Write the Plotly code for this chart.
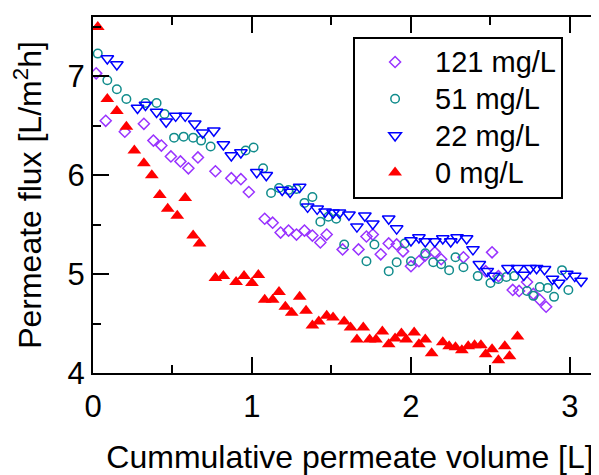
import plotly.graph_objects as go

# 0 mg/L
x0 = [0.03, 0.09, 0.15, 0.21, 0.26, 0.32, 0.37, 0.42, 0.47, 0.53, 0.58, 0.63, 0.67, 0.77, 0.82,
      0.90, 0.95, 1.00, 1.04, 1.08, 1.13, 1.17, 1.21, 1.25, 1.30, 1.34, 1.38, 1.42, 1.47, 1.51,
      1.58, 1.62, 1.66, 1.70, 1.74, 1.78, 1.82, 1.86, 1.90, 1.94, 1.97, 2.02, 2.05, 2.09, 2.13,
      2.20, 2.24, 2.28, 2.32, 2.36, 2.40, 2.44, 2.47, 2.51, 2.55, 2.59, 2.62, 2.67]
y0 = [7.50, 6.77, 6.65, 6.49, 6.25, 6.12, 6.00, 5.80, 5.66, 5.59, 5.77, 5.39, 5.31, 4.96, 4.98,
      4.92, 4.98, 4.91, 4.99, 4.74, 4.74, 4.82, 4.67, 4.61, 4.77, 4.63, 4.48, 4.52, 4.58, 4.56,
      4.52, 4.46, 4.34, 4.46, 4.34, 4.34, 4.42, 4.29, 4.35, 4.40, 4.34, 4.41, 4.29, 4.34, 4.20,
      4.31, 4.27, 4.26, 4.23, 4.27, 4.28, 4.28, 4.19, 4.24, 4.13, 4.27, 4.17, 4.37]

# 22 mg/L
x22 = [0.09, 0.15, 0.28, 0.33, 0.40, 0.46, 0.52, 0.58, 0.64, 0.69, 0.76, 0.82, 0.87, 0.93, 1.03,
       1.09, 1.19, 1.24, 1.30, 1.35, 1.41, 1.46, 1.51, 1.55, 1.61, 1.66, 1.71, 1.76, 1.86, 1.91,
       2.00, 2.05, 2.09, 2.15, 2.20, 2.25, 2.29, 2.35, 2.39, 2.43, 2.48, 2.52, 2.61, 2.67, 2.71,
       2.75, 2.79, 2.84, 2.89, 2.93, 2.98, 3.03, 3.07]
y22 = [7.18, 7.12, 6.68, 6.71, 6.64, 6.54, 6.60, 6.60, 6.52, 6.43, 6.45, 6.31, 6.20, 6.23, 6.03,
       6.00, 5.85, 5.83, 5.88, 5.68, 5.66, 5.63, 5.62, 5.62, 5.60, 5.48, 5.59, 5.51, 5.56, 5.46,
       5.34, 5.37, 5.33, 5.33, 5.36, 5.33, 5.37, 5.36, 5.25, 5.10, 5.03, 4.98, 5.06, 5.06, 4.99,
       5.06, 5.06, 5.05, 4.95, 4.91, 5.00, 4.98, 4.93]

# 51 mg/L
x51 = [0.03, 0.09, 0.15, 0.21, 0.33, 0.40, 0.45, 0.51, 0.57, 0.63, 0.68, 0.74, 0.96, 1.01, 1.07,
       1.12, 1.17, 1.23, 1.28, 1.33, 1.38, 1.43, 1.48, 1.53, 1.58, 1.72, 1.77, 1.86, 1.91, 1.96,
       2.00, 2.09, 2.14, 2.19, 2.24, 2.28, 2.33, 2.42, 2.50, 2.55, 2.60, 2.65, 2.73, 2.77, 2.81,
       2.86, 2.90, 2.95, 2.99]
y51 = [7.23, 6.96, 6.87, 6.77, 6.73, 6.73, 6.62, 6.38, 6.39, 6.38, 6.35, 6.29, 6.25, 6.28, 6.07,
       5.82, 5.87, 5.85, 5.86, 5.72, 5.78, 5.53, 5.58, 5.56, 5.30, 5.13, 5.30, 5.03, 5.12, 5.31,
       5.13, 5.21, 5.12, 5.10, 5.04, 5.17, 5.07, 4.98, 4.91, 4.95, 4.97, 4.98, 4.83, 4.78, 4.87,
       4.86, 4.77, 5.04, 4.84]

# 121 mg/L
x121 = [0.02, 0.08, 0.20, 0.32, 0.38, 0.43, 0.49, 0.55, 0.60, 0.66, 0.77, 0.87, 0.93, 0.98, 1.08,
        1.13, 1.18, 1.23, 1.28, 1.33, 1.38, 1.43, 1.47, 1.57, 1.67, 1.72, 1.76, 1.81, 1.86, 1.91,
        1.95, 2.00, 2.05, 2.09, 2.15, 2.19, 2.33, 2.47, 2.51, 2.55, 2.64, 2.68, 2.73, 2.77, 2.81,
        2.85]
y121 = [7.03, 6.55, 6.44, 6.52, 6.35, 6.30, 6.19, 6.14, 6.07, 6.18, 6.04, 5.97, 5.96, 5.83, 5.56,
        5.52, 5.42, 5.44, 5.40, 5.44, 5.39, 5.32, 5.40, 5.25, 5.25, 5.38, 5.40, 5.20, 5.31, 5.30,
        5.23, 5.08, 5.13, 5.19, 5.22, 5.15, 5.17, 5.03, 5.22, 4.98, 4.84, 4.83, 4.92, 4.80, 4.74,
        4.67]

FONT = 'Liberation Sans, Arial, sans-serif'


def leg(name):
    # bigger text than the legend's row height would allow
    return '<span style="font-size:29px">' + name + '</span>'


fig = go.Figure()

fig.add_trace(go.Scatter(x=x121, y=y121, mode='markers', name=leg('121 mg/L'),
                         marker=dict(symbol='diamond-open', size=8.5, color='#9933FF',
                                     line=dict(width=1.5))))
fig.add_trace(go.Scatter(x=x51, y=y51, mode='markers', name=leg('51 mg/L'),
                         marker=dict(symbol='circle-open', size=8.5, color='#118C8C',
                                     line=dict(width=1.5))))
fig.add_trace(go.Scatter(x=x22, y=y22, mode='markers', name=leg('22 mg/L'),
                         marker=dict(symbol='triangle-down-open', size=11, color='#0000FF',
                                     line=dict(width=1.5))))
fig.add_trace(go.Scatter(x=x0, y=y0, mode='markers', name=leg('0 mg/L'),
                         marker=dict(symbol='triangle-up', size=12, color='#FF0000')))

axis_common = dict(showline=True, linecolor='black', linewidth=2, mirror='allticks',
                   ticks='inside', ticklen=16, tickwidth=2, tickcolor='black',
                   showgrid=False, zeroline=False, automargin=False,
                   tickfont=dict(family=FONT, size=31, color='black'),
                   minor=dict(ticks='inside', ticklen=8, tickwidth=2, tickcolor='black',
                              dtick=0.5, showgrid=False))

fig.update_xaxes(range=[0, 3.233], tickmode='linear', tick0=0, dtick=1, ticklabelstandoff=5,
                 title=dict(text='Cummulative permeate volume [L]',
                            font=dict(family=FONT, size=32, color='black'), standoff=22),
                 **axis_common)
fig.update_yaxes(range=[4, 7.6], tickmode='linear', tick0=4, dtick=1,
                 title=dict(text='Permeate flux [L/m<sup>2</sup>h]',
                            font=dict(family=FONT, size=32, color='black'), standoff=17),
                 **axis_common)

# page body adds 8px, so the figure is shifted back by that much
fig.update_layout(width=599, height=467,
                  margin=dict(l=85, r=0, t=9, b=102, autoexpand=False),
                  plot_bgcolor='white', paper_bgcolor='white',
                  showlegend=True,
                  legend=dict(x=0.506, y=0.945, xanchor='left', yanchor='top',
                              bgcolor='white', bordercolor='black', borderwidth=2,
                              itemwidth=70,
                              font=dict(family=FONT, size=26, color='black')))

fig.write_html("out.html")
